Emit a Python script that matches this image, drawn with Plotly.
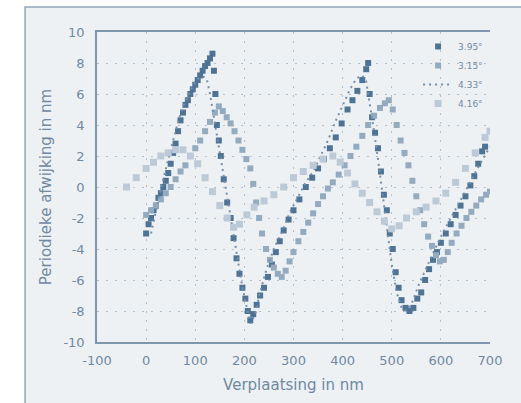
import plotly.graph_objects as go

# Periodic deviation measured along the displacement, four tilt angles
labels = ["3.95°", "3.15°", "4.33°", "4.16°"]
x_ticks = [-100, 0, 100, 200, 300, 400, 500, 600, 700]
y_ticks = [-10, -8, -6, -4, -2, 0, 2, 4, 6, 8, 10]

x_a = [0, 5, 10, 15, 20, 25, 30, 35, 40, 45, 50, 55, 60, 65, 70, 75, 80, 85, 90, 95, 100, 105, 110, 115, 120, 125, 130, 135,
       138, 141, 144, 148, 152, 158, 165, 172, 178, 184, 190, 196, 202, 207, 212,
       218, 225, 232, 240, 248, 256, 264, 272, 280, 290, 300, 312, 325, 338, 350, 362, 374, 386, 398, 410, 420, 430, 440, 448, 452,
       455, 460, 466, 472, 478, 484, 490, 496, 502, 508, 514, 520, 528, 536,
       544, 552, 560, 568, 576, 584, 592, 600, 610, 620, 630, 640, 650, 660, 668, 676, 684, 690]
y_a = [-3.0, -2.4, -2.0, -1.5, -1.2, -0.7, -0.4, 0.0, 0.4, 0.9, 1.5, 2.2, 2.8, 3.6, 4.3, 4.8, 5.3, 5.6, 6.0, 6.3, 6.6, 6.9, 7.2, 7.5, 7.8, 8.0, 8.3, 8.6,
       7.5, 6.0, 4.0, 3.0, 2.0, 0.5, -1.0, -2.0, -3.3, -4.6, -5.6, -6.5, -7.2, -8.0, -8.6,
       -8.2, -7.6, -7.0, -6.5, -5.8, -5.0, -4.2, -3.5, -2.8, -2.1, -1.5, -0.8, 0.0, 0.6, 1.2, 1.8, 2.5, 3.2, 4.1, 5.0, 5.6, 6.2, 6.9, 7.6, 8.0,
       6.0, 4.5, 3.5, 2.5, 1.0, -0.5, -1.5, -3.0, -4.0, -5.5, -6.5, -7.3, -7.8, -8.0,
       -7.8, -7.2, -6.8, -6.0, -5.3, -4.7, -4.2, -3.6, -3.0, -2.4, -1.8, -1.2, -0.6, 0.1, 0.7, 1.5, 2.3, 2.6]

x_b = [0, 10, 20, 30, 40, 50, 60, 70, 80, 90, 100, 110, 120, 130, 140, 148, 156, 164, 172, 180, 188, 196, 204, 212,
       218, 224, 230, 236, 244, 252, 260, 268, 276, 284, 292, 300, 310, 320, 330, 340, 350, 360, 370, 380, 392, 404,
       416, 428, 440, 452, 464, 476, 486, 494, 502, 510, 518, 526, 534, 542, 550, 558, 566, 574, 582, 590, 598, 606,
       614, 622, 632, 642, 652, 662, 672, 682, 692, 700]
y_b = [-1.8, -1.5, -1.2, -0.8, -0.4, 0.0, 0.5, 1.0, 1.4, 2.0, 2.5, 3.0, 3.6, 4.2, 4.8, 5.2, 4.9, 4.5, 4.1, 3.6, 3.0, 2.4, 1.8, 1.2,
       0.2, -1.0, -2.0, -3.0, -4.0, -4.7, -5.2, -5.6, -5.8, -5.4, -4.8, -4.2, -3.5, -2.9, -2.3, -1.7, -1.1, -0.6, -0.1, 0.3, 0.8, 1.4,
       2.0, 2.6, 3.3, 4.0, 4.6, 5.1, 5.4, 5.6, 5.0, 4.0, 3.0, 2.2, 1.4, 0.4, -0.6, -1.5, -2.4, -3.2, -3.8, -4.4, -4.8, -4.7,
       -4.2, -3.6, -3.0, -2.5, -2.0, -1.6, -1.2, -0.8, -0.5, -0.3]

x_c = [10, 28, 45, 55, 65, 75, 85, 95, 103, 110, 118, 124, 130, 138, 146, 155, 165, 175, 185, 195, 205, 213, 222, 232, 245,
       260, 278, 293, 310, 325, 340, 355, 370, 385, 400, 415, 428, 440, 448, 455, 463, 472, 481, 490, 500, 510, 520, 530,
       542, 555, 570, 585, 600, 620, 640, 660, 680, 700]
y_c = [-3.0, -0.4, 1.8, 3.0, 4.2, 5.2, 5.9, 6.5, 6.9, 7.1, 7.1, 6.9, 6.0, 4.5, 3.0, 1.3, -0.5, -2.5, -4.5, -6.3, -7.8, -8.8, -8.2, -6.8, -5.3,
       -4.0, -2.8, -1.6, -0.6, 0.3, 1.0, 2.0, 3.0, 4.2, 5.3, 6.3, 7.0, 7.2, 6.8, 5.5, 3.8, 1.8, -0.5, -2.8, -5.0, -6.8, -7.8, -8.0,
       -7.4, -6.3, -5.2, -4.2, -3.2, -2.0, -0.8, 0.4, 1.5, 2.6]

x_d = [-40, -20, 0, 15, 30, 45, 60, 75, 90, 105, 120, 135, 150, 165, 178, 190, 205, 220, 240, 260, 280, 300, 320, 340, 360,
       380, 395, 410, 425, 440, 455, 470, 485, 500, 515, 530, 550, 570, 590, 610, 630, 650, 670, 690, 700]
y_d = [0.0, 0.6, 1.2, 1.6, 2.0, 2.2, 2.4, 2.4, 2.0, 1.5, 0.6, -0.3, -1.2, -2.0, -2.6, -2.4, -1.8, -1.3, -0.9, -0.5, 0.0, 0.6, 1.0, 1.4, 1.8,
       2.0, 1.6, 0.9, 0.2, -0.4, -1.0, -1.6, -2.2, -2.7, -2.5, -2.0, -1.6, -1.3, -0.9, -0.4, 0.3, 1.2, 2.2, 3.2, 3.6]

text_col = "#6f89a2"
grid_col = "#b3c1ce"
axis_col = "#7e97ad"
bg_col = "#eef1f4"
font_family = "DejaVu Sans, Verdana, sans-serif"

fig = go.Figure()
fig.add_trace(go.Scatter(x=x_a, y=y_a, mode="markers", name=labels[0],
                         marker=dict(symbol="square", size=6, color="#4f7394")))
fig.add_trace(go.Scatter(x=x_b, y=y_b, mode="markers", name=labels[1],
                         marker=dict(symbol="square", size=6, color="#93aabf")))
fig.add_trace(go.Scatter(x=x_c, y=y_c, mode="lines", name=labels[2],
                         line=dict(color="#7590aa", width=2, dash="2px,4px")))
fig.add_trace(go.Scatter(x=x_d, y=y_d, mode="markers", name=labels[3],
                         marker=dict(symbol="square", size=7, color="#bccad7")))

# outer chart frame
fig.add_shape(type="rect", xref="paper", yref="paper",
              x0=-0.183, x1=1.2, y0=-0.3, y1=1.081,
              line=dict(color="#91a5b8", width=1.5), fillcolor=bg_col, layer="below")

fig.update_layout(
    width=521, height=403,
    margin=dict(l=97, r=31, t=32, b=61),
    paper_bgcolor="white", plot_bgcolor=bg_col,
    font=dict(family=font_family, color=text_col, size=12),
    showlegend=True,
    legend=dict(x=0.817, y=1.0, xanchor="left", yanchor="top",
                bgcolor="rgba(0,0,0,0)", font=dict(size=9, color=text_col),
                itemwidth=30, tracegroupgap=0),
    xaxis=dict(range=[-100, 700], tickvals=x_ticks, ticktext=[str(v) for v in x_ticks],
               showgrid=True, gridcolor=grid_col, griddash="2px,7px", gridwidth=1,
               zeroline=False, showline=True, linecolor=axis_col, linewidth=1.5, mirror=True,
               ticks="", ticklabelstandoff=6, tickfont=dict(size=13),
               title=dict(text="Verplaatsing in nm", font=dict(size=15, color=text_col), standoff=12)),
    yaxis=dict(range=[-10, 10], tickvals=y_ticks, ticktext=[str(v) for v in y_ticks],
               showgrid=True, gridcolor=grid_col, griddash="2px,7px", gridwidth=1,
               zeroline=False, showline=True, linecolor=axis_col, linewidth=1.5, mirror=False,
               ticks="", ticklabelstandoff=8, tickfont=dict(size=13),
               title=dict(text="Periodieke afwijking in nm", font=dict(size=15, color=text_col), standoff=8)),
)

fig.write_html("out.html")
